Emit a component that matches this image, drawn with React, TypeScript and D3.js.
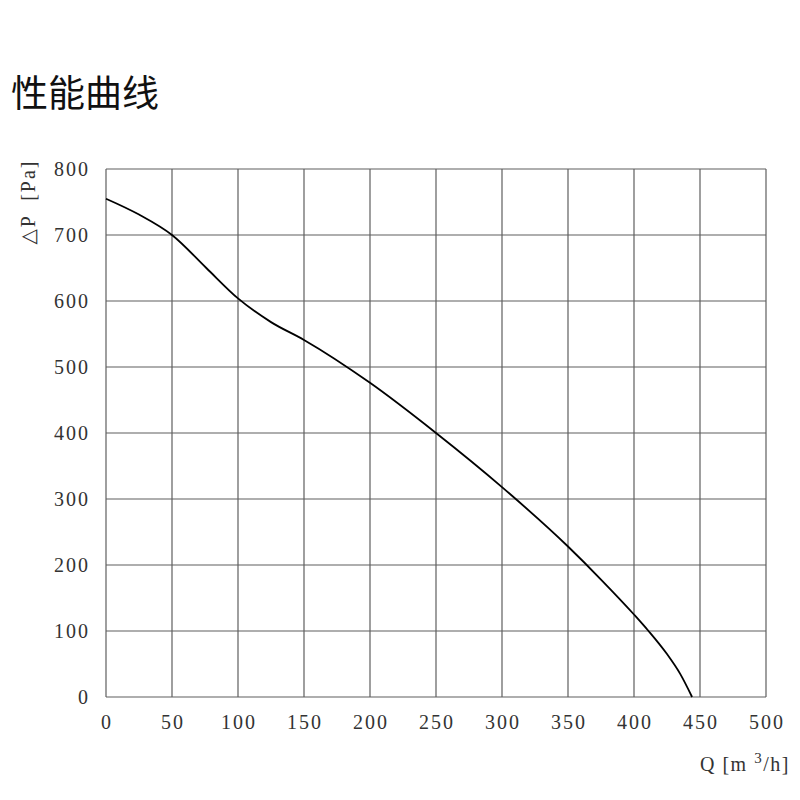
import * as d3 from "d3";
import { useEffect, useRef } from "react";

const flow = [0, 25, 50, 76, 100, 125, 150, 200, 250, 300, 350, 375, 400, 411, 425, 435, 444];
const pressure = [755, 731, 700, 650, 604, 568, 541, 476, 400, 318, 228, 178, 125, 100, 65, 35, 0];
const xTicks = [0, 50, 100, 150, 200, 250, 300, 350, 400, 450, 500];
const yTicks = [0, 100, 200, 300, 400, 500, 600, 700, 800];

export default function App() {
  const ref = useRef<SVGSVGElement>(null);

  useEffect(() => {
    if (!ref.current) return;
    const svg = d3.select(ref.current);
    svg.selectAll("*").remove();

    const left = 106, right = 766, top = 169, bottom = 697;
    const x = d3.scaleLinear().domain([0, 500]).range([left, right]);
    const y = d3.scaleLinear().domain([0, 800]).range([bottom, top]);
    const serif = "'Liberation Serif', 'DejaVu Serif', serif";
    const ls = 2;

    svg.append("text")
      .attr("x", 11).attr("y", 107)
      .attr("font-family", "'Noto Sans CJK SC', sans-serif")
      .attr("font-size", 37)
      .attr("fill", "#111")
      .text("性能曲线");

    const grid = svg.append("g").attr("stroke", "#5e5e5e").attr("stroke-width", 1.2);
    xTicks.forEach(t => {
      grid.append("line").attr("x1", x(t)).attr("x2", x(t)).attr("y1", top).attr("y2", bottom);
    });
    yTicks.forEach(t => {
      grid.append("line").attr("x1", left).attr("x2", right).attr("y1", y(t)).attr("y2", y(t));
    });

    svg.append("g").selectAll("text").data(xTicks).join("text")
      .attr("x", d => x(d) + ls / 2).attr("y", 729)
      .attr("text-anchor", "middle")
      .attr("letter-spacing", ls)
      .attr("font-family", serif).attr("font-size", 20).attr("fill", "#333")
      .text(d => d);

    svg.append("g").selectAll("text").data(yTicks).join("text")
      .attr("x", 88 + ls).attr("y", d => y(d) + 7)
      .attr("text-anchor", "end")
      .attr("letter-spacing", ls)
      .attr("font-family", serif).attr("font-size", 20).attr("fill", "#333")
      .text(d => d);

    const line = d3.line<number>()
      .x((_, i) => x(flow[i]))
      .y(d => y(d))
      .curve(d3.curveMonotoneX);

    svg.append("path")
      .datum(pressure)
      .attr("d", line)
      .attr("fill", "none")
      .attr("stroke", "#000")
      .attr("stroke-width", 1.8);

    const xl = svg.append("text")
      .attr("x", 700).attr("y", 771)
      .attr("font-family", serif).attr("font-size", 20).attr("fill", "#333")
      .attr("letter-spacing", 1.5)
      .attr("xml:space", "preserve");
    xl.append("tspan").text("Q [m ");
    xl.append("tspan").attr("dy", -8).attr("font-size", 15).text("3");
    xl.append("tspan").attr("dy", 8).text("/h]");

    svg.append("text")
      .attr("transform", "translate(35,202) rotate(-90)")
      .attr("text-anchor", "middle")
      .attr("letter-spacing", 2)
      .attr("xml:space", "preserve")
      .attr("font-family", serif).attr("font-size", 20).attr("fill", "#333")
      .text("△P  [Pa]");
  }, []);

  return (
    <svg ref={ref} width={800} height={800} style={{ position: "absolute", left: 0, top: 0, display: "block" }} />
  );
}
